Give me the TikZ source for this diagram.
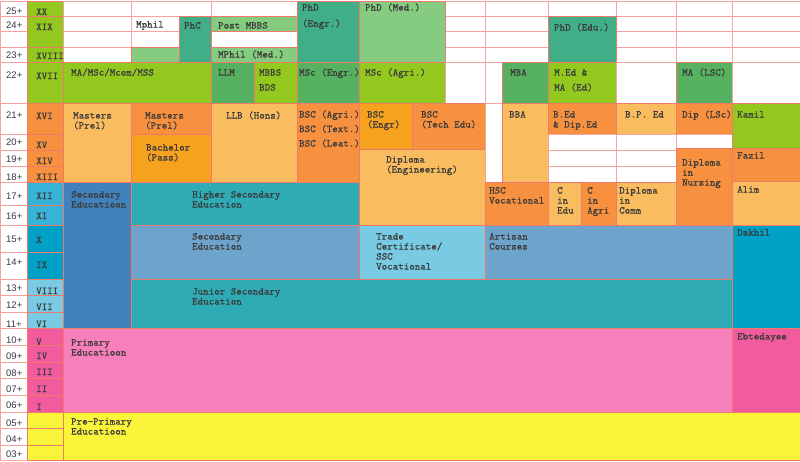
\documentclass[tikz,border=0pt]{standalone}
\usepackage{fontspec}
\newfontfamily\labfont{Liberation Sans}
\newfontfamily\cellfont[FakeBold=0.4]{lmmono10-regular.otf}
\definecolor{cgreen}{HTML}{93C91F}
\definecolor{ctgreen}{HTML}{40AE86}
\definecolor{clgreen}{HTML}{86CC80}
\definecolor{cmgreen}{HTML}{56B160}
\definecolor{corange}{HTML}{F8913F}
\definecolor{clorange}{HTML}{F9BD5F}
\definecolor{cdorange}{HTML}{F7A21F}
\definecolor{cteal}{HTML}{2EABB5}
\definecolor{cdblue}{HTML}{4282BC}
\definecolor{csteel}{HTML}{6EA4CC}
\definecolor{clcyan}{HTML}{78CBE3}
\definecolor{cblue}{HTML}{00A1C7}
\definecolor{cxi}{HTML}{38B3D8}
\definecolor{cpink}{HTML}{F77FBC}
\definecolor{cdpink}{HTML}{F35B9F}
\definecolor{cyellow}{HTML}{FAF43A}
\definecolor{bord}{HTML}{F07A6A}
\definecolor{bordw}{HTML}{F5A39D}
\definecolor{txtc}{HTML}{3A3A3A}
\newcommand\tcell{\cellfont\fontsize{10.5}{10}\selectfont\lineskiplimit=-20pt\lineskip=0pt\relax}
\newcommand\agefont{\labfont\fontsize{9.5}{10}\selectfont}
\newcommand\fs{\rule{0pt}{8.5pt}}
\newcommand\cb[5]{\path[cellst,fill=#5] (#1,#2) rectangle (#3,#4);}
\newcommand\wb[4]{\path[wcell] (#1,#2) rectangle (#3,#4);}
\begin{document}
\begin{tikzpicture}[x=1pt,y=-1pt,
  cellst/.style={draw=bord,line width=1pt},
  wcell/.style={draw=bordw,fill=white,line width=1pt},
  txt/.style={anchor=north west,inner sep=0pt,align=left,font=\tcell,text=txtc,yshift=2.08pt},
  rom/.style={anchor=base west,inner sep=0pt,font=\tcell,text=txtc},
  age/.style={anchor=base west,inner sep=0pt,font=\agefont,text=txtc}]
\useasboundingbox (0,0) rectangle (800,461);
\fill[white] (0,0) rectangle (800,461);
% age column
\foreach \ya/\yb/\t/\bl [count=\i] in {1/16/25+/14.5,16/31/24+/28,47/62/23+/58,62/103/22+/78,103/134/21+/118,134/150/20+/145,150/166/19+/162,166/182/18+/180,182/205/17+/199,205/225/16+/219,225/252/15+/242,252/279/14+/265,279/295/13+/291,295/312/12+/308,312/328/11+/327,328/345/10+/343,345/362/09+/359,362/378/08+/376,378/395/07+/392,395/412/06+/408,412/428/05+/426,428/445/04+/442,445/460/03+/457}{
  \path[wcell] (0.5,\ya) rectangle (27,\yb);
  \node[age] (age\i) at (6,\bl) {\t};
}
\wb{0.5}{31}{27}{47}
% roman column
\foreach \ya/\yb/\t/\bl/\c [count=\i] in {1/16/XX/15/cgreen,16/47/XIX/30/cgreen,47/62/XVIII/59/cgreen,62/103/XVII/79/cgreen,103/134/XVI/119/corange,134/150/XV/148/corange,150/166/XIV/164/corange,166/182/XIII/180/corange,182/205/XII/199/cxi,205/225/XI/219/cxi,225/252/X/243/cblue,252/279/IX/268/cblue,279/295/VIII/294/clcyan,295/312/VII/310/clcyan,312/328/VI/327/clcyan,328/345/V/345/cdpink,345/362/IV/359/cdpink,362/378/III/375/cdpink,378/395/II/392/cdpink,395/412/I/410/cdpink}{
  \path[cellst,fill=\c] (27,\ya) rectangle (63,\yb);
}
\cb{27}{412}{63}{428}{cyellow}
\cb{27}{428}{63}{445}{cyellow}
\cb{27}{445}{63}{460}{cyellow}
% top white grid
\foreach \xa/\xb in {63/131,131/211,211/297,445/485,485/548,548/616,616/676,676/732,732/800}{\path[wcell] (\xa,1) rectangle (\xb,16);}
\foreach \xa/\xb in {445/485,485/548,616/676,676/732,732/800}{
  \path[wcell] (\xa,16) rectangle (\xb,31);
  \path[wcell] (\xa,31) rectangle (\xb,47);
  \path[wcell] (\xa,47) rectangle (\xb,62);}
\wb{63}{16}{131}{31}\wb{131}{16}{179}{31}
\wb{63}{31}{131}{47}\wb{131}{31}{179}{47}\wb{211}{31}{297}{47}
\wb{63}{47}{131}{62}
\cb{131}{47}{179}{62}{clgreen}
\cb{179}{16}{211}{62}{ctgreen}
\cb{211}{16}{297}{31}{clgreen}
\cb{211}{47}{297}{62}{clgreen}
\cb{297}{1}{359}{62}{ctgreen}
\cb{359}{1}{445}{62}{clgreen}
\cb{548}{16}{616}{62}{ctgreen}
% row 22+
\cb{63}{62}{211}{103}{cgreen}
\cb{211}{62}{254}{103}{cmgreen}
\cb{254}{62}{297}{103}{cgreen}
\cb{297}{62}{359}{103}{cmgreen}
\cb{359}{62}{445}{103}{cgreen}
\wb{445}{62}{485}{103}\wb{485}{62}{502}{103}
\cb{502}{62}{548}{103}{cmgreen}
\cb{548}{62}{616}{103}{cgreen}
\wb{616}{62}{676}{103}
\cb{676}{62}{732}{103}{cmgreen}
\wb{732}{62}{800}{103}
% rows 21+ to 18+
\cb{63}{103}{131}{182}{clorange}
\cb{131}{103}{211}{134}{corange}
\cb{131}{134}{211}{182}{cdorange}
\cb{211}{103}{297}{182}{clorange}
\cb{297}{103}{359}{182}{corange}
\cb{359}{103}{412}{149}{cdorange}
\cb{412}{103}{485}{149}{corange}
\cb{359}{149}{485}{225}{clorange}
\wb{485}{103}{502}{182}
\cb{502}{103}{548}{182}{clorange}
\cb{548}{103}{616}{134}{corange}
\wb{548}{134}{616}{150}\wb{548}{150}{616}{166}\wb{548}{166}{616}{182}
\cb{616}{103}{676}{134}{clorange}
\wb{616}{134}{676}{150}\wb{616}{150}{676}{166}\wb{616}{166}{676}{182}
\cb{676}{103}{732}{134}{corange}
\wb{676}{134}{732}{148}
\cb{676}{148}{732}{225}{corange}
\cb{732}{103}{800}{148}{cgreen}
\cb{732}{148}{800}{181}{corange}
\cb{732}{181}{800}{225}{clorange}
% rows 17+ 16+
\cb{63}{182}{131}{328}{cdblue}
\cb{131}{182}{359}{225}{cteal}
\cb{485}{182}{548}{225}{corange}
\cb{548}{182}{581}{225}{clorange}
\cb{581}{182}{616}{225}{corange}
\cb{616}{182}{676}{225}{clorange}
% rows 15+ 14+
\cb{131}{225}{359}{279}{csteel}
\cb{359}{225}{485}{279}{clcyan}
\cb{485}{225}{732}{279}{csteel}
\cb{732}{225}{800}{328}{cblue}
% rows 13+ - 11+
\cb{131}{279}{732}{328}{cteal}
% primary
\cb{63}{328}{732}{412}{cpink}
\cb{732}{328}{800}{412}{cdpink}
\cb{63}{412}{800}{460}{cyellow}
% roman numerals text
\foreach \bl/\t [count=\i] in {15/XX,30/XIX,59/XVIII,79/XVII,119/XVI,148/XV,164/XIV,180/XIII,199/XII,219/XI,243/X,268/IX,294/VIII,310/VII,327/VI,345/V,359/IV,375/III,392/II,410/I}{
  \node[rom] (rom\i) at (36,\bl) {\t};
}
% texts
\node[txt] (mphil) at (136,21) {\fs Mphil};
\node[txt] (phc) at (184,22) {\fs PhC};
\node[txt] (postmbbs) at (218,22) {\fs Post MBBS};
\node[txt] (mphilmed) at (218,51) {\fs MPhil (Med.)};
\node[txt] (phdengr) at (302,4) {\fs PhD\\[6pt](Engr.)};
\node[txt] (phdmed) at (365,4) {\fs PhD (Med.)};
\node[txt] (phdedu) at (554,24) {\fs PhD (Edu.)};
\node[txt] (ma) at (71,69) {\fs MA/MSc/Mcom/MSS};
\node[txt] (llm) at (218,69) {\fs LLM};
\node[txt] (mbbs) at (259,69) {\fs MBBS\\[5pt]BDS};
\node[txt] (mscengr) at (299,69) {\fs MSc (Engr.)};
\node[txt] (mscagri) at (365,69) {\fs MSc (Agri.)};
\node[txt] (mba) at (510,69) {\fs MBA};
\node[txt] (med) at (554,69) {\fs M.Ed \&\\[5pt]MA (Ed)};
\node[txt] (malsc) at (682,69) {\fs MA (LSC)};
\node[txt] (mast1) at (73,112) {\fs Masters\\(Prel)};
\node[txt] (mast2) at (145,112) {\fs Masters\\(Prel)};
\node[txt] (bach) at (146,144) {\fs Bachelor\\(Pass)};
\node[txt] (llb) at (226,112) {\fs LLB (Hons)};
\node[txt] (bsc) at (299,111) {\fs BSC (Agri.)\\[4.5pt]BSC (Text.)\\[4.5pt]BSC (Leat.)};
\node[txt] (bscengr) at (367,111) {\fs BSC\\(Engr)};
\node[txt] (bsctech) at (421,111) {\fs BSC\\(Tech Edu)};
\node[txt] (dipeng) at (386,156) {\fs Diploma\\(Engineering)};
\node[txt] (bba) at (509,111) {\fs BBA};
\node[txt] (bed) at (553,111) {\fs B.Ed\\\& Dip.Ed};
\node[txt] (bped) at (625,111) {\fs B.P. Ed};
\node[txt] (diplsc) at (682,111) {\fs Dip (LSc)};
\node[txt] (kamil) at (737,111) {\fs Kamil};
\node[txt] (fazil) at (737,152) {\fs Fazil};
\node[txt] (alim) at (737,186) {\fs Alim};
\node[txt] (dipnurs) at (682,159) {\fs Diploma\\in\\Nursing};
\node[txt] (secl) at (71,191) {\fs Secondary\\Educatioon};
\node[txt] (hsec) at (192,191) {\fs Higher Secondary\\Education};
\node[txt] (hscv) at (489,187) {\fs HSC\\Vocational};
\node[txt] (cedu) at (557,187) {\fs C\\in\\Edu};
\node[txt] (cagri) at (587,187) {\fs C\\in\\Agri};
\node[txt] (dipcomm) at (619,187) {\fs Diploma\\in\\Comm};
\node[txt] (sec) at (192,233) {\fs Secondary\\Education};
\node[txt] (trade) at (376,233) {\fs Trade\\Certificate/\\SSC\\Vocational};
\node[txt] (artisan) at (489,233) {\fs Artisan\\Courses};
\node[txt] (dakhil) at (737,229) {\fs Dakhil};
\node[txt] (jsec) at (192,288) {\fs Junior Secondary\\Education};
\node[txt] (prim) at (71,339) {\fs Primary\\Educatioon};
\node[txt] (ebt) at (737,333) {\fs Ebtedayee};
\node[txt] (pre) at (71,418) {\fs Pre-Primary\\Educatioon};
\end{tikzpicture}
\end{document}
